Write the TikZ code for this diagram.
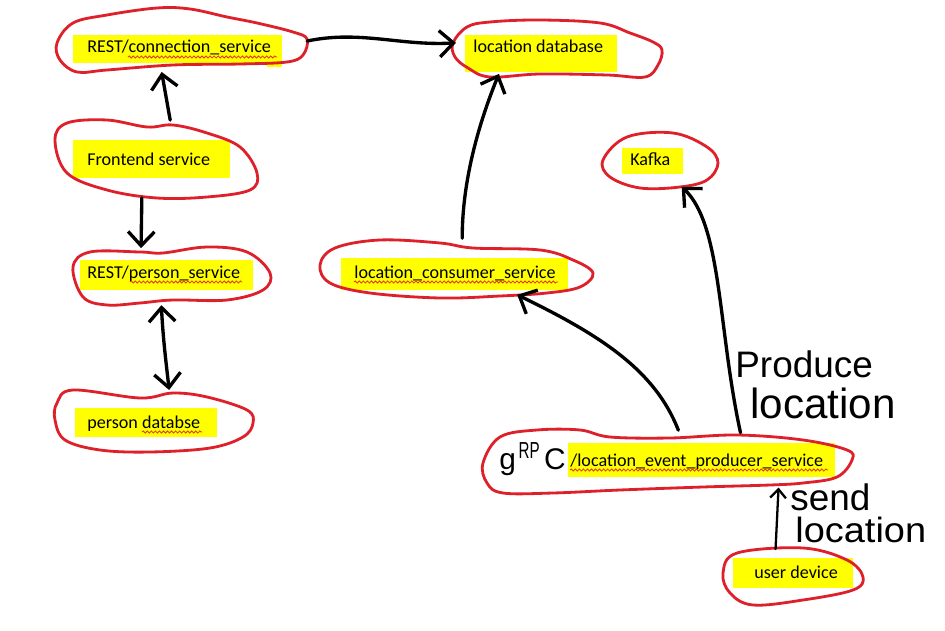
\documentclass[tikz,border=0pt]{standalone}
\usepackage{fontspec}
\setmainfont{Carlito}
\newfontfamily\handfont{Liberation Sans}
\usetikzlibrary{arrows.meta,shapes.geometric,decorations.pathmorphing}
\definecolor{blobred}{RGB}{222,32,42}
\definecolor{marker}{RGB}{255,255,0}
\definecolor{squiggle}{RGB}{228,48,30}

\begin{document}
\begin{tikzpicture}[x=0.02cm,y=-0.02cm,
  outline/.style={draw=blobred, line width=1.6pt, line join=round},
  hole/.style={ellipse, inner sep=0pt, draw=none},
  hl/.style={fill=marker},
  lbl/.style={anchor=base west, inner sep=0pt, font=\fontsize{10.3pt}{12pt}\selectfont},
  barb/.tip={Straight Barb[length=8pt,width=15pt]},
  smallbarb/.tip={Straight Barb[length=5pt,width=9pt]},
  link/.style={draw=black, line width=1.9pt, line cap=round, line join=round, -barb},
  spell/.style={draw=squiggle, line width=0.45pt, decorate, decoration={snake, amplitude=0.6pt, segment length=2.3pt}},
  hand/.style={anchor=base west, inner sep=0pt, text=black}]

\useasboundingbox (0,0) rectangle (945,631);

% ---- REST/connection_service
\node[hole, minimum width=5.04cm, minimum height=1.24cm] (conn) at (181,41) {};
\fill[hl] (73,35) rectangle (282,63);
\fill[hl] (267,60) rectangle (282,67);
\draw[outline] plot[smooth cycle, tension=0.6] coordinates {(57,43) (73,23) (107,15) (157,8) (190,9) (227,17) (257,23) (293,32) (307,39) (303,55) (287,62) (240,64) (173,65) (107,70) (77,72) (60,60)};
\node[lbl] (conn-t) at (87,53) {REST/connection\_service};
\draw[spell] (128,57) -- (277,57);

% ---- location database
\node[hole, minimum width=4.2cm, minimum height=1.14cm] (locdb) at (558,50) {};
\fill[hl] (465,35) rectangle (617,72);
\draw[outline] plot[smooth cycle, tension=0.6] coordinates {(453,43) (467,27) (490,22) (540,20) (600,23) (630,33) (653,42) (662,50) (658,65) (645,77) (607,75) (540,74) (490,77) (468,68) (455,57)};
\node[lbl] (locdb-t) at (473,53) {location database};

% ---- Frontend service
\node[hole, minimum width=4.04cm, minimum height=1.56cm] (front) at (156,159) {};
\fill[hl] (73,140) rectangle (230,178);
\draw[outline] plot[smooth cycle, tension=0.6] coordinates {(55,140) (67,123) (107,120) (147,127) (173,125) (207,133) (240,147) (257,173) (250,190) (207,197) (157,198) (107,190) (67,173)};
\node[lbl] (front-t) at (87,166) {Frontend service};

% ---- Kafka
\node[hole, minimum width=2.3cm, minimum height=1.1cm] (kafka) at (660,161) {};
\fill[hl] (622,148) rectangle (683,174);
\draw[outline] plot[smooth cycle, tension=0.6] coordinates {(603,160) (627,137) (673,133) (707,147) (718,163) (707,180) (680,187) (640,188) (610,177)};
\node[lbl] (kafka-t) at (630,166) {Kafka};

% ---- REST/person_service
\node[hole, minimum width=3.94cm, minimum height=1.16cm] (person) at (172,276) {};
\fill[hl] (80,260) rectangle (253,290);
\draw[outline] plot[smooth cycle, tension=0.6] coordinates {(73,267) (90,252) (140,252) (163,253) (207,247) (247,252) (270,273) (263,290) (227,300) (173,300) (140,303) (107,305) (83,297)};
\node[lbl] (person-t) at (87,278) {REST/person\_service};
\draw[spell] (130,282) -- (242,282);

% ---- location_consumer_service
\node[hole, minimum width=5.46cm, minimum height=1.18cm] (consumer) at (457,268) {};
\fill[hl] (341,258) rectangle (568,290);
\draw[outline] plot[smooth cycle, tension=0.6] coordinates {(320,265) (335,248) (380,240) (440,243) (473,248) (540,250) (573,260) (593,273) (580,287) (547,293) (500,296) (440,298) (370,293) (330,283)};
\node[lbl] (consumer-t) at (354,278) {location\_consumer\_service};
\draw[spell] (354,282) -- (558,282);

% ---- person databse
\node[hole, minimum width=3.96cm, minimum height=1.24cm] (persondb) at (154,421) {};
\fill[hl] (75,408) rectangle (217,437);
\draw[outline] plot[smooth cycle, tension=0.6] coordinates {(57,403) (73,390) (140,398) (173,393) (207,397) (247,410) (253,423) (243,437) (210,448) (150,452) (100,450) (65,440) (55,420)};
\node[lbl] (persondb-t) at (87,428) {person databse};
\draw[spell] (142,432) -- (202,432);

% ---- gRPC /location_event_producer_service
\node[hole, minimum width=7.38cm, minimum height=1.26cm] (grpc) at (668,462) {};
\fill[hl] (568,443) rectangle (835,477);
\draw[outline] plot[smooth cycle, tension=0.6] coordinates {(483,463) (500,437) (537,430) (580,430) (610,437) (670,438) (737,435) (803,440) (847,450) (852,460) (837,477) (803,483) (770,485) (703,487) (620,490) (553,493) (503,493) (487,483)};
\node[lbl] (grpc-t) at (570,466) {/location\_event\_producer\_service};
\draw[spell] (570,470) -- (828,470);
\node[hand, font=\handfont\fontsize{17pt}{18pt}\selectfont] (grpc-h) at (499,469)
  {g\kern1.5pt\raisebox{6pt}{\fontsize{12pt}{13pt}\selectfont\scalebox{0.72}[1.1]{RP}}\kern2.5pt C};

% ---- user device
\node[hole, minimum width=2.8cm, minimum height=1.14cm] (device) at (793,577) {};
\fill[hl] (733,558) rectangle (853,588);
\draw[outline] plot[smooth cycle, tension=0.6] coordinates {(723,573) (737,553) (803,548) (847,560) (863,577) (853,590) (803,600) (753,605) (730,593)};
\node[lbl] (device-t) at (754,578) {user device};

% ---- connectors
\draw[link] (conn.east) .. controls (360,30) and (400,46) .. (locdb.176);
\draw[link] (front.70) -- (conn.-122);
\draw[link] (front.-110) -- (person.138);
\draw[link, barb-barb] (person.-110) .. controls (163,340) and (167,370) .. (persondb.64);
\draw[link] (consumer.80) .. controls (462,195) and (472,140) .. (locdb.-158);
\draw[link] (grpc.72) .. controls (655,370) and (600,335) .. (consumer.-24);
\draw[link] (grpc.22) .. controls (718,330) and (722,225) .. (kafka.-50);
\draw[link, line width=1.3pt, -smallbarb] (device.122) -- (grpc.-13);

% ---- hand-written notes
\node[hand, font=\handfont\fontsize{21pt}{22pt}\selectfont] (note1) at (735,377) {Produce};
\node[hand, font=\handfont\fontsize{24pt}{25pt}\selectfont] (note2) at (750,418) {location};
\node[hand, font=\handfont\fontsize{21pt}{22pt}\selectfont] (note3) at (790,510) {send};
\node[hand, font=\handfont\fontsize{20pt}{21pt}\selectfont] (note4) at (795,542) {\scalebox{1.08}[1]{location}};
\end{tikzpicture}
\end{document}
